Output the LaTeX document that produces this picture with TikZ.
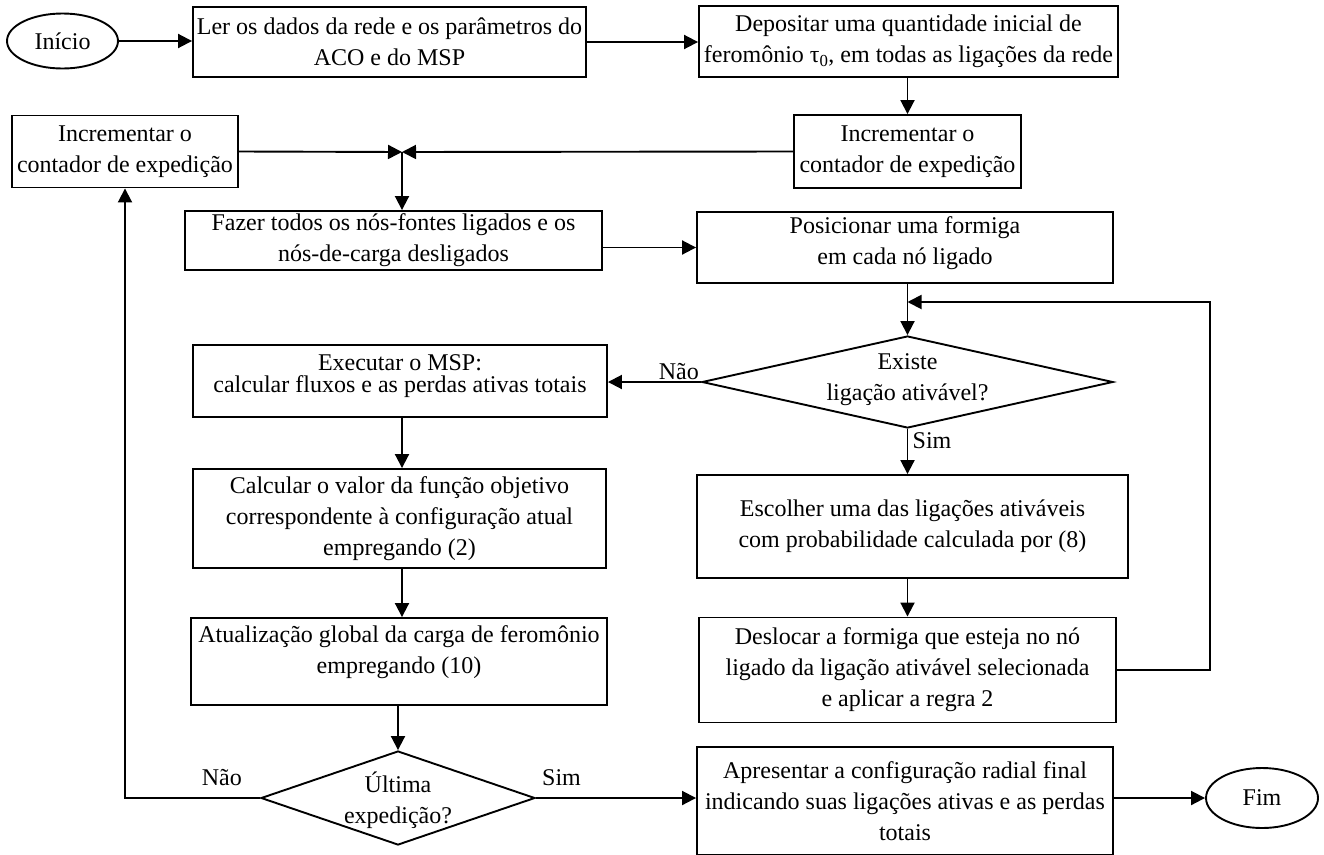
\documentclass[tikz,border=0pt]{standalone}
\usepackage{fontspec}
\setmainfont{Liberation Serif}
\usetikzlibrary{arrows.meta,shapes.geometric}
\begin{document}
\begin{tikzpicture}[x=1pt,y=-1pt,
  every node/.style={font=\fontsize{24}{31}\selectfont},
  box/.style={draw,line width=1.9pt,rectangle,align=center,inner sep=0pt},
  term/.style={draw,line width=1.9pt,ellipse,inner sep=0pt},
  dec/.style={draw,line width=1.9pt,diamond,inner sep=0pt},
  arr/.style={line width=1.9pt,-{Triangle[length=14pt,width=14pt]}},
  lab/.style={inner sep=2pt}
]
\useasboundingbox (0,0) rectangle (1324,854);

% terminals
\node[term,minimum width=111pt,minimum height=55pt] (ini) at (62.5,41) {Início};
\node[term,minimum width=112pt,minimum height=60pt] (fim) at (1262,798) {Fim};

% boxes
\node[box,minimum width=393pt,minimum height=70pt] (b1) at (389.5,42)
  {Ler os dados da rede e os parâmetros do\\ACO e do MSP};
\node[box,minimum width=419pt,minimum height=71pt] (b2) at (908.5,41.5)
  {Depositar uma quantidade inicial de\\feromônio τ\textsubscript{0}, em todas as ligações da rede};
\node[box,minimum width=227pt,minimum height=73pt] (b3) at (907.5,151.5)
  {Incrementar o\\contador de expedição};
\node[box,minimum width=226pt,minimum height=72pt] (b4) at (125,151.5)
  {Incrementar o\\contador de expedição};
\node[box,minimum width=417pt,minimum height=59pt] (b5) at (393.5,240.5)
  {Fazer todos os nós-fontes ligados e os\\nós-de-carga desligados};
\node[box,minimum width=416pt,minimum height=71pt,text depth=14pt] (b6) at (905,247.5)
  {Posicionar uma formiga\\em cada nó ligado};
\node[dec,minimum width=411pt,minimum height=92pt,
  label={[align=center,yshift=2pt]center:Existe\\ligação ativável?}] (d1) at (907.5,382) {};
\node[box,minimum width=414pt,minimum height=72pt,text depth=15pt,
  font=\fontsize{24}{22}\selectfont] (b7) at (400,381)
  {Executar o MSP:\\calcular fluxos e as perdas ativas totais};
\node[box,minimum width=413pt,minimum height=99pt] (b8) at (399.5,518.5)
  {Calcular o valor da função objetivo\\correspondente à configuração atual\\empregando (2)};
\node[box,minimum width=416pt,minimum height=87pt,text depth=24pt] (b9) at (399,661.5)
  {Atualização global da carga de feromônio\\empregando (10)};
\node[dec,minimum width=274pt,minimum height=94pt,
  label={[align=center,yshift=-2pt]center:Última\\expedição?}] (d2) at (398,798) {};
\node[box,minimum width=431pt,minimum height=103pt] (b10) at (912.5,526.5)
  {Escolher uma das ligações ativáveis\\com probabilidade calculada por (8)};
\node[box,minimum width=417pt,minimum height=105pt] (b11) at (907.5,670)
  {Deslocar a formiga que esteja no nó\\ligado da ligação ativável selecionada\\e aplicar a regra 2};
\node[box,minimum width=416pt,minimum height=108pt] (b12) at (905,801)
  {Apresentar a configuração radial final\\indicando suas ligações ativas e as perdas\\totais};

% helper coordinates
\coordinate (j) at (402,152);
\coordinate (lp) at (1210,302);

% connectors
\draw[arr] (ini.east) -- (ini.east -| b1.west);
\draw[arr] (b1.east) -- (b1.east -| b2.west);
\draw[arr] (b2.south -| b3.north) -- (b3.north);
\draw[arr] (b3.west) -- (j);
\draw[arr] (b4.east) -- (j);
\draw[arr] (j) -- (j |- b5.north);
\draw[arr] (b6.west -| b5.east) -- (b6.west);
\draw[arr] (b6.south -| d1.north) -- (d1.north);
\draw[arr] (d1.west) -- (d1.west -| b7.east);
\draw[arr] (d1.south) -- (d1.south |- b10.north);
\draw[arr] (b10.south -| b11.north) -- (b11.north);
\draw[arr] (b11.east) -| (lp) -- (lp -| d1.north);
\draw[arr] (b7.south -| j) -- (j |- b8.north);
\draw[arr] (b8.south -| j) -- (j |- b9.north);
\draw[arr] (b9.south -| d2.north) -- (d2.north);
\draw[arr] (d2.west) -| (b4.south);
\draw[arr] (d2.east) -- (d2.east -| b12.west);
\draw[arr] (fim.west -| b12.east) -- (fim.west);

% labels
\node[lab,anchor=south east] (nao1) at (d1.west) {Não};
\node[lab,anchor=north west,xshift=3pt,yshift=-1pt] (sim1) at (d1.south) {Sim};
\node[lab,anchor=south east,xshift=-16pt,yshift=10pt] (nao2) at (d2.west) {Não};
\node[lab,anchor=south west,xshift=4pt,yshift=10pt] (sim2) at (d2.east) {Sim};
\end{tikzpicture}
\end{document}
